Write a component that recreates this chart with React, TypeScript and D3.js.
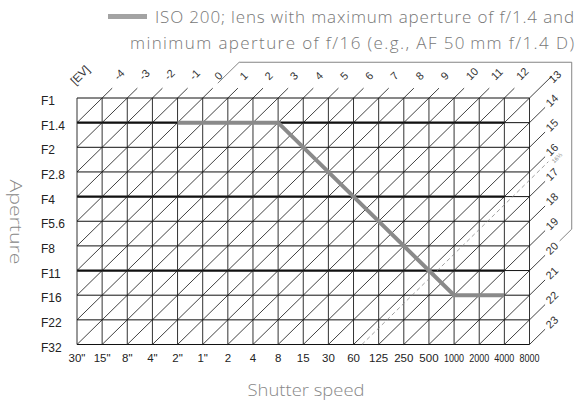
import React from 'react';
import * as d3 from 'd3';

const shutterLabels = ['30"', '15"', '8"', '4"', '2"', '1"', '2', '4', '8', '15', '30', '60', '125', '250', '500', '1000', '2000', '4000', '8000'];
const apertureLabels = ['F1', 'F1.4', 'F2', 'F2.8', 'F4', 'F5.6', 'F8', 'F11', 'F16', 'F22', 'F32'];
const evTopLabels = ['-4', '-3', '-2', '-1', '0', '1', '2', '3', '4', '5', '6', '7', '8', '9', '10', '11', '12', '13'];
const evRightLabels = ['14', '15', '16', '17', '18', '19', '20', '21', '22', '23'];
const boldApertures = ['F1.4', 'F4', 'F11'];
const programLine = [
  { shutter: '2"', aperture: 'F1.4' },
  { shutter: '8', aperture: 'F1.4' },
  { shutter: '1000', aperture: 'F16' },
  { shutter: '4000', aperture: 'F16' },
];
const evAtOrigin = -5; // EV at 30", F1
const meterRange = [0, 20];
const dashedEV = 16 + 1 / 3;
const dashedLabel = '16⅓';
const legendLine1 = 'ISO 200; lens with maximum aperture of f/1.4 and';
const legendLine2 = 'minimum aperture of f/16 (e.g., AF 50\u2009mm f/1.4 D)';
const xTitle = 'Shutter speed';
const yTitle = 'Aperture';

export default function App() {
  const W = 582, H = 401;
  const nK = shutterLabels.length - 1;
  const nJ = apertureLabels.length - 1;
  const xs = d3.scalePoint<string>().domain(shutterLabels).range([77, 529.5]);
  const ys = d3.scalePoint<string>().domain(apertureLabels).range([98, 344.5]);
  const xi = d3.scaleLinear().domain([0, nK]).range([77, 529.5]);
  const yi = d3.scaleLinear().domain([0, nJ]).range([98, 344.5]);
  const line = d3.line<[number, number]>().x(d => xi(d[0])).y(d => yi(d[1]));

  // EV lines
  const evValues = d3.range(evAtOrigin + 1, evAtOrigin + nK + nJ + 1);
  const evLines = evValues.map(ev => {
    const s = ev - evAtOrigin;
    const k0 = Math.max(0, s - nJ);
    const k1 = Math.min(nK, s);
    const corner = k1 === nK && s - k1 === 0;
    const top = s - k1 === 0;
    const f = corner ? 0.9 : top ? 0.4 : 0.62;
    const pts: [number, number][] = [[k0, s - k0], [k1, s - k1], [k1 + f, s - k1 - f]];
    return { ev, pts, k1, j1: s - k1, top, corner };
  });

  const ds = dashedEV - evAtOrigin;
  const dk0 = Math.max(0, ds - nJ);
  const dk1 = Math.min(nK, ds);
  const dashedPts: [number, number][] = [[dk0, ds - dk0], [dk1, ds - dk1], [dk1 + 0.75, ds - dk1 - 0.75]];

  const s0 = meterRange[0] - evAtOrigin;
  const s1 = meterRange[1] - evAtOrigin;
  const topJ = -1.45;
  const rightK = 19.68;
  const bracketPts: [number, number][] = [
    [s0 + 0.6, -0.6],
    [s0 - topJ, topJ],
    [rightK, topJ],
    [rightK, s1 - rightK],
    [nK + 1.2, s1 - nK - 1.2],
  ];

  const progPath = d3.line<{ shutter: string; aperture: string }>()
    .x(d => xs(d.shutter)!)
    .y(d => ys(d.aperture)!)(programLine);

  const sans = 'Liberation Sans, Arial, sans-serif';
  const light = 'Open Sans, Noto Sans, sans-serif';

  return (
    <svg width={W} height={H} style={{ position: 'absolute', left: 0, top: 0, background: '#fff' }} fontFamily={sans}>
      {/* legend */}
      <rect x={108} y={14} width={39} height={5} fill="#a3a3a3" />
      <text x={155} y={23} fontFamily={light} fontWeight={300} fontSize={17} fill="#777" textLength={419} lengthAdjust="spacing">{legendLine1}</text>
      <text x={130} y={49} fontFamily={light} fontWeight={300} fontSize={17} fill="#777" textLength={444} lengthAdjust="spacing">{legendLine2}</text>

      {/* bracket */}
      <path d={line(bracketPts)!} fill="none" stroke="#777" strokeWidth={0.9} />

      {/* horizontal grid lines */}
      {apertureLabels.map(a => (
        <line key={'h' + a} x1={xi(0)} x2={xi(nK)} y1={ys(a)} y2={ys(a)} stroke="#111" strokeWidth={1} />
      ))}
      {boldApertures.map(a => (
        <line key={'b' + a} x1={xi(0)} x2={xi(nK - 1)} y1={ys(a)} y2={ys(a)} stroke="#111" strokeWidth={2.2} />
      ))}
      {/* vertical grid lines */}
      {shutterLabels.map(s => (
        <line key={'v' + s} x1={xs(s)} x2={xs(s)} y1={yi(0)} y2={yi(nJ)} stroke="#333" strokeWidth={1} />
      ))}
      {/* EV diagonals */}
      {evLines.map(l => (
        <path key={'ev' + l.ev} d={line(l.pts)!} fill="none" stroke="#111" strokeWidth={0.8} />
      ))}
      <path d={line(dashedPts)!} fill="none" stroke="#888" strokeWidth={0.8} strokeDasharray="4,3" />

      {/* program line */}
      <path d={progPath!} fill="none" stroke="#8a8a8a" strokeWidth={4} strokeLinejoin="miter" />

      {/* EV labels */}
      {evLines.map((l, i) => {
        let px: number, py: number, label: string;
        if (l.corner) {
          px = xi(nK) + 21; py = yi(0) - 17; label = evTopLabels[evTopLabels.length - 1];
        } else if (l.top) {
          px = xi(l.k1) + 13.5; py = yi(0) - 20; label = evTopLabels[i];
        } else {
          px = xi(nK) + 18; py = yi(l.j1) - 18; label = evRightLabels[i - evTopLabels.length];
        }
        return (
          <text key={'evl' + l.ev} x={px} y={py} fontSize={11} fill="#333" dominantBaseline="central"
            transform={`rotate(-45 ${px} ${py})`}>{label}</text>
        );
      })}
      <text x={80} y={75} fontSize={11.5} fill="#333" textAnchor="middle" dominantBaseline="central"
        transform="rotate(-45 80 75)">[EV]</text>
      <text x={557} y={158} fontSize={6} fill="#888" textAnchor="middle" dominantBaseline="central"
        transform="rotate(-45 557 158)">{dashedLabel}</text>

      {/* y tick labels */}
      {apertureLabels.map(a => (
        <text key={'yl' + a} x={41} y={ys(a)! + 7} fontSize={12} fill="#222">{a}</text>
      ))}
      {/* x tick labels */}
      {shutterLabels.map(s => (
        <text key={'xl' + s} x={xs(s)} y={362} fontSize={11.5} fill="#222" textAnchor="middle"
          {...(s.length >= 4 ? { textLength: 20, lengthAdjust: 'spacingAndGlyphs' } : {})}>{s}</text>
      ))}

      {/* axis titles */}
      <text x={306} y={396} fontFamily={light} fontWeight={300} fontSize={17} fill="#888" textAnchor="middle"
        textLength={117} lengthAdjust="spacingAndGlyphs">{xTitle}</text>
      <text x={0} y={0} fontFamily={light} fontWeight={300} fontSize={17} fill="#888" textAnchor="middle"
        textLength={85} lengthAdjust="spacingAndGlyphs"
        transform="translate(10 222) rotate(90)">{yTitle}</text>
    </svg>
  );
}
